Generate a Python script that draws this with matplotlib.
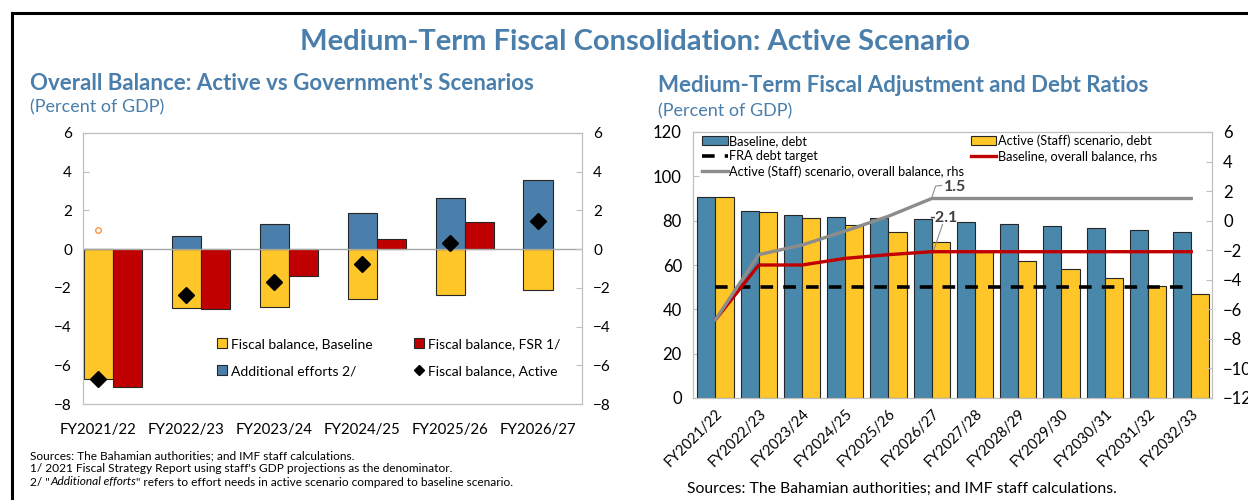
import matplotlib
matplotlib.use('Agg')
import matplotlib.pyplot as plt
from matplotlib.patches import Patch
from matplotlib.lines import Line2D
import numpy as np

plt.rcParams['font.family'] = ['Lato', 'DejaVu Sans']

# left panel data
years_left = ['FY2021/22', 'FY2022/23', 'FY2023/24', 'FY2024/25', 'FY2025/26', 'FY2026/27']
fb_baseline = [-6.7, -3.05, -3.0, -2.6, -2.35, -2.1]
add_efforts = [0.0, 0.7, 1.3, 1.85, 2.65, 3.55]
fb_fsr = [-7.1, -3.1, -1.4, 0.5, 1.4]
fb_active = [-6.7, -2.35, -1.7, -0.75, 0.3, 1.45]

# right panel data
years_right = ['FY2021/22', 'FY2022/23', 'FY2023/24', 'FY2024/25', 'FY2025/26', 'FY2026/27',
               'FY2027/28', 'FY2028/29', 'FY2029/30', 'FY2030/31', 'FY2031/32', 'FY2032/33']
debt_base = [90.7, 84.2, 82.7, 81.8, 81.2, 80.6, 79.4, 78.5, 77.6, 76.7, 75.6, 74.8]
debt_active = [90.7, 83.9, 81.3, 78.2, 74.8, 70.6, 66.0, 61.9, 58.0, 54.2, 50.5, 46.8]
fra_target = [50] * 12
bal_base = [-6.7, -3.0, -3.0, -2.55, -2.3, -2.1, -2.1, -2.1, -2.1, -2.1, -2.1, -2.1]
bal_active = [-6.7, -2.3, -1.65, -0.7, 0.3, 1.5, 1.5, 1.5, 1.5, 1.5, 1.5, 1.5]

YEL = '#FFC629'
BLU = '#4A7FAC'
BLU2 = '#4A88AB'
RED = '#C00000'
GRY = '#8C8C8C'
TCOL = '#4A7EAB'
SPC = '#BFBFBF'
EDGE = '#262626'

fig = plt.figure(figsize=(12.48, 5.0), dpi=100)

# border (only left/top visible in crop)
fig.add_artist(Line2D([12 / 1248, 12 / 1248], [0, 1 - 12.5 / 500], color='black', lw=2.2,
                      transform=fig.transFigure))
fig.add_artist(Line2D([12 / 1248, 1], [1 - 12.5 / 500, 1 - 12.5 / 500], color='black', lw=2.2,
                      transform=fig.transFigure))

fig.text(0.509, 1 - 42 / 500, 'Medium-Term Fiscal Consolidation: Active Scenario',
         ha='center', va='center', fontsize=21, fontweight='bold', color=TCOL)
fig.text(30 / 1248, 1 - 83 / 500, "Overall Balance: Active vs Government's Scenarios",
         ha='left', va='center', fontsize=16, fontweight='bold', color=TCOL)
fig.text(30 / 1248, 1 - 107 / 500, '(Percent of GDP)', ha='left', va='center',
         fontsize=13, color=TCOL)
fig.text(658 / 1248, 1 - 86 / 500, 'Medium-Term Fiscal Adjustment and Debt Ratios',
         ha='left', va='center', fontsize=16, fontweight='bold', color=TCOL)
fig.text(658 / 1248, 1 - 111 / 500, '(Percent of GDP)', ha='left', va='center',
         fontsize=13, color=TCOL)


def style_axes(a):
    for s in a.spines.values():
        s.set_color(SPC)
    a.tick_params(direction='in', length=4, color=SPC, labelsize=11, pad=8)


# ---- left panel ----
ax1 = fig.add_axes([83 / 1248, 1 - 404 / 500, 499 / 1248, 271 / 500])
w = 0.332
x = np.arange(len(years_left))
ax1.bar(x, fb_baseline, w, color=YEL, edgecolor=EDGE, lw=0.8, zorder=2)
ax1.bar(x, add_efforts, w, color=BLU, edgecolor=EDGE, lw=0.8, zorder=2)
ax1.bar(x[:len(fb_fsr)] + w, fb_fsr, w, color=RED, edgecolor=EDGE, lw=0.8, zorder=2)
ax1.plot(x, fb_active, 'D', color='black', ms=8, zorder=4)
ax1.plot([0], [1.0], 'o', mfc='none', mec='#F79646', ms=4, mew=1, zorder=4)
ax1.axhline(0, color='#A6A6A6', lw=1, zorder=3)
ax1.set_xlim(-0.175, 5.5)
ax1.set_ylim(-8, 6)
ax1.set_yticks(range(-8, 7, 2))
ax1.set_xticks(x)
ax1.set_xticklabels(years_left)
style_axes(ax1)
ax1.tick_params(axis='x', length=0, pad=14, labelsize=10.8)
ax1b = ax1.twinx()
ax1b.set_ylim(-8, 6)
ax1b.set_yticks(range(-8, 7, 2))
style_axes(ax1b)

h1 = [Patch(fc=YEL, ec=EDGE, lw=0.8), Patch(fc=BLU, ec=EDGE, lw=0.8),
      Patch(fc=RED, ec=EDGE, lw=0.8),
      Line2D([], [], marker='D', color='black', ls='none', ms=5)]
l1 = ['Fiscal balance, Baseline', 'Additional efforts 2/', 'Fiscal balance, FSR 1/',
      'Fiscal balance, Active']
ax1.legend(h1, l1, loc='upper left', bbox_to_anchor=(0.243, 0.29), ncol=2, frameon=False,
           fontsize=10, handlelength=0.75, handleheight=0.75, handletextpad=0.25,
           labelspacing=1.1, columnspacing=3.0)

# footnotes
fn = 8.6
fig.text(30 / 1248, 1 - 456 / 500, 'Sources: The Bahamian authorities; and IMF staff calculations.',
         fontsize=fn, va='center')
fig.text(30 / 1248, 1 - 469 / 500,
         "1/ 2021 Fiscal Strategy Report using staff's GDP projections as the denominator.",
         fontsize=fn, va='center')
renderer = fig.canvas.get_renderer()
parts = [('2/ "', 'normal'), ('Additional efforts', 'italic'),
         ('" refers to effort needs in active scenario compared to baseline scenario.', 'normal')]
xpos = 30
for txt, sty in parts:
    t = fig.text(xpos / 1248, 1 - 482 / 500, txt, fontsize=fn, va='center', fontstyle=sty)
    xpos += t.get_window_extent(renderer).width + 0.5

# ---- right panel ----
ax2 = fig.add_axes([693 / 1248, 1 - 398 / 500, 519 / 1248, 266 / 500])
wr = 0.418
xr = np.arange(len(years_right))
b_base = ax2.bar(xr - wr / 2, debt_base, wr, color=BLU2, edgecolor=EDGE, lw=0.8, zorder=2)
b_act = ax2.bar(xr + wr / 2, debt_active, wr, color=YEL, edgecolor=EDGE, lw=0.8, zorder=2)
fra, = ax2.plot(xr, fra_target, color='black', lw=2.6, ls=(0, (3.5, 2.8)), zorder=3)
ax2.set_xlim(-0.52, 11.48)
ax2.set_ylim(0, 120)
ax2.set_yticks(range(0, 121, 20))
ax2.set_xticks(xr)
ax2.set_xticklabels(years_right, rotation=45, ha='right', va='top', rotation_mode='anchor')
style_axes(ax2)
ax2.tick_params(axis='y', labelsize=12)
ax2.tick_params(axis='x', length=0, pad=6, labelsize=10.5)

ax2b = ax2.twinx()
ax2b.set_ylim(-12, 6)
ax2b.set_yticks(range(-12, 7, 2))
style_axes(ax2b)
ax2b.tick_params(axis='y', labelsize=12)
ln_base, = ax2b.plot(xr, bal_base, color=RED, lw=2.4, zorder=3)
ln_act, = ax2b.plot(xr, bal_active, color=GRY, lw=2.4, zorder=3)

ax2b.plot([5.0, 5.09, 5.23], [1.55, 2.34, 2.38], color=GRY, lw=0.8)
ax2b.text(5.28, 2.25, '1.5', fontsize=11.5, fontweight='bold', color='#404040',
          ha='left', va='center')
ax2b.plot([5.05, 5.25], [-1.95, -0.25], color=GRY, lw=0.8)
ax2b.text(5.26, 0.2, '-2.1', fontsize=11.5, fontweight='bold', color='#404040',
          ha='center', va='center')

h2 = [b_base, fra, ln_act, b_act, ln_base]
l2 = ['Baseline, debt', 'FRA debt target', 'Active (Staff) scenario, overall balance, rhs',
      'Active (Staff) scenario, debt', 'Baseline, overall balance, rhs']
ax2b.legend(h2, l2, loc='upper left', bbox_to_anchor=(0.0, 1.025), ncol=2, frameon=False,
            fontsize=9.2, handlelength=2.0, handletextpad=0.15, labelspacing=0.25,
            columnspacing=0.5, borderaxespad=0.3)

fig.text(687 / 1248, 1 - 489 / 500, 'Sources: The Bahamian authorities; and IMF staff calculations.',
         fontsize=11.3, va='center')

fig.savefig('out.png', dpi=100)
